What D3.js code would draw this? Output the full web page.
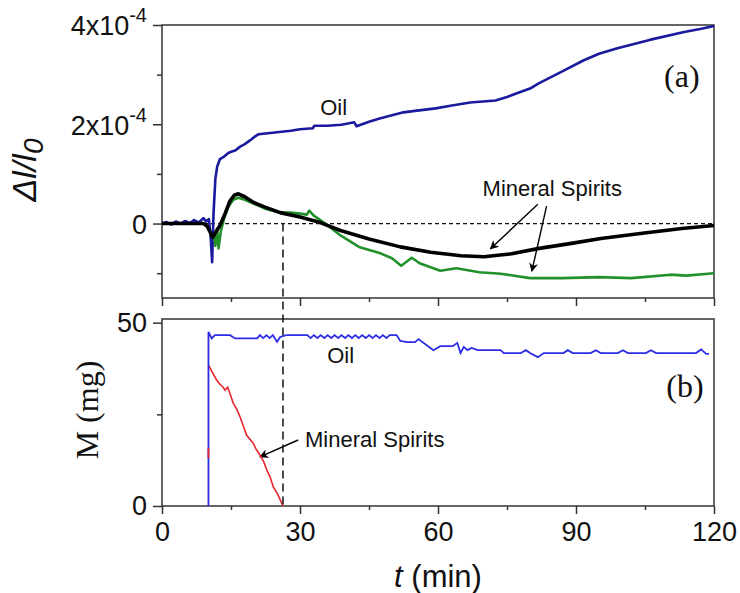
<!DOCTYPE html>
<html>
<head>
<meta charset="utf-8">
<script src="https://cdn.jsdelivr.net/npm/d3@7"></script>
<style>
  body { margin: 0; background: #fff; }
  svg { display: block; }
  text { font-family: Arial, 'Liberation Sans', sans-serif; fill: #111; }
</style>
</head>
<body>
<svg width="740" height="593"></svg>
<script>
// panel (a): dl/l0 in units of 1e-4, t in min
const oilTop = [
  [0,0],[1,0.03],[2,-0.02],[3,0.04],[4,0],[5,0.05],[6,0.01],[7,0.07],[8,0.02],[9,0.11],[9.6,0.04],
  [10.2,0.09],[10.6,-0.3],[10.9,-0.78],[11.2,0.2],[11.6,0.9],[12,1.15],[12.6,1.3],[13.5,1.35],
  [14.4,1.42],[15.2,1.45],[15.9,1.47],[17,1.55],[18,1.6],[19.2,1.68],[20,1.74],[21,1.8],[23,1.82],
  [25,1.84],[28,1.87],[30,1.9],[32.8,1.92],[33.1,1.97],[36,1.97],[39,1.99],[41.8,2.04],[42.3,1.96],
  [45,2.05],[47.5,2.12],[50,2.18],[52.5,2.24],[55,2.27],[59.5,2.32],[63,2.38],[67,2.44],[72.5,2.48],
  [75,2.55],[77,2.62],[80,2.72],[82,2.83],[86.7,3.05],[91.7,3.29],[95,3.42],[99,3.53],[106,3.7],
  [113.5,3.86],[117,3.92],[120,3.98]
];
const msBlack = [
  [0,0],[5,0],[9,0],[9.8,-0.05],[10.5,-0.18],[11,-0.28],[11.5,-0.2],[12.6,-0.04],[13.7,0.2],
  [14.8,0.46],[15.7,0.57],[16.6,0.6],[18,0.54],[20,0.42],[22.4,0.33],[25.7,0.22],[30,0.13],
  [34.4,0.02],[38.8,-0.14],[45,-0.31],[51.8,-0.47],[58.4,-0.58],[65,-0.65],[70,-0.67],[73,-0.64],
  [76,-0.61],[82,-0.5],[89,-0.4],[95.4,-0.3],[104,-0.2],[113,-0.1],[120,-0.04]
];
const msGreen = [
  [11.2,-0.2],[11.6,-0.45],[12,-0.1],[12.3,-0.5],[12.8,-0.15],[13.5,0.1],[14.5,0.35],[15.5,0.48],
  [16.6,0.52],[18,0.48],[20,0.4],[22.4,0.3],[25.7,0.22],[28,0.22],[30,0.2],[31.5,0.18],[32,0.26],
  [33,0.16],[35.5,0],[38.8,-0.24],[43,-0.48],[47.5,-0.6],[50,-0.7],[52,-0.85],[54.3,-0.69],[56,-0.8],
  [60.5,-0.95],[64,-0.9],[69,-0.98],[73.6,-1.01],[80,-1.1],[87,-1.1],[95,-1.08],[102,-1.1],
  [110.6,-1.03],[114,-1.05],[120,-1]
];

// panel (b): M in mg
const oilMass = [
  [10.1,0],[10.1,47.5],[10.8,45.7],[11.5,46.6],[14.8,46.6],[15.9,45.7],[20.7,45.7],[21.3,46.6],
  [22,45.8],[22.7,46.6],[23.4,45.8],[24.1,46.6],[25,44.8],[25.7,46.1],[27,46.6],[30,46.6],
  [31.6,46.6],[32.3,45.8],[33,46.6],[33.8,45.8],[34.5,46.6],[35.3,45.8],[36,46.6],[36.8,45.8],
  [37.5,46.6],[38.3,45.8],[39,46.6],[39.8,45.8],[40.5,46.6],[41.3,45.8],[42,46.6],[42.8,45.8],
  [43.5,46.6],[44.3,45.8],[45,46.6],[45.8,45.8],[46.5,46.6],[47.3,45.8],[48,46.6],[48.8,45.8],
  [49.5,46.6],[51,46.6],[51.8,45],[53.4,44.7],[55,44.7],[55.8,45.5],[56.6,44.7],[59,42.5],
  [60.5,43.6],[63.2,43.6],[64.2,44.5],[64.9,41.7],[65.6,43.4],[66.4,42.5],[67.3,43.1],[68.6,42.5],
  [73.6,42.5],[74.3,41.7],[78,41.7],[79.1,42.5],[80,41.7],[81.7,40.6],[83,41.7],[87.3,41.7],
  [88.2,42.5],[89.3,41.7],[93.2,41.7],[94.3,42.5],[95.4,41.7],[99.1,41.7],[100.2,42.5],
  [101.3,41.7],[105.2,41.7],[106.3,42.5],[107.4,41.7],[116.1,41.7],[117.2,42.7],[118.3,41.5],
  [118.9,41.5]
];
const msMass = [
  [10.1,38.4],[10.9,36.6],[11.9,34.3],[12.6,33.2],[13.3,32.4],[13.7,31.6],[14.3,32.4],[15.5,28],
  [16.3,26.3],[17,24.2],[17.8,21.4],[18.4,19.3],[19.8,17.2],[20.5,15.4],[21.3,13.9],[22.1,12.1],
  [22.8,9.8],[23.5,7.9],[24.2,5.2],[25.2,3.1],[26.3,0]
];
const msMassStub = [[10.1,13.1],[10.1,15.8]];

const dropTime = 26.3;

const xTicks = [0, 30, 60, 90, 120];
const xMinor = [15, 45, 75, 105];
const topTicks = [0, 2, 4];
const topMinor = [-1, 1, 3];
const botTicks = [0, 50];
const botMinor = [25];

const svg = d3.select('svg');

const x = d3.scaleLinear().domain([0, 120]).range([162, 714]);
const yTop = d3.scaleLinear().domain([-1.5, 4]).range([298, 25]);
const yBot = d3.scaleLinear().domain([0, 51]).range([506, 319]);

const axisColor = '#333';

svg.append('defs').append('marker')
    .attr('id', 'arr')
    .attr('viewBox', '0 0 10 10')
    .attr('refX', 9).attr('refY', 5)
    .attr('markerWidth', 9).attr('markerHeight', 9)
    .attr('markerUnits', 'userSpaceOnUse')
    .attr('orient', 'auto')
  .append('path')
    .attr('d', 'M0,0 L10,5 L0,10 L3,5 Z')
    .attr('fill', '#000');

function frame(y) {
  const [y0, y1] = y.range();
  svg.append('rect')
      .attr('x', 162).attr('y', y1)
      .attr('width', 714 - 162).attr('height', y0 - y1)
      .attr('fill', 'none')
      .attr('stroke', axisColor)
      .attr('stroke-width', 1.5);
}

function ticks(g) {
  g.select('.domain').remove();
  g.selectAll('.tick line').attr('stroke', axisColor).attr('stroke-width', 1.5);
  return g;
}

// ---- panel (a)
frame(yTop);

svg.append('g').attr('transform', 'translate(0,298)')
    .call(d3.axisBottom(x).tickValues(xTicks).tickSize(8).tickFormat(''))
    .call(ticks);
svg.append('g').attr('transform', 'translate(0,298)')
    .call(d3.axisBottom(x).tickValues(xMinor).tickSize(4).tickFormat(''))
    .call(ticks);

const leftTop = svg.append('g').attr('transform', 'translate(162,0)')
    .call(d3.axisLeft(yTop).tickValues(topTicks).tickSize(9).tickPadding(6).tickFormat(''))
    .call(ticks);
leftTop.selectAll('.tick').each(function(d) {
  const t = d3.select(this).select('text')
      .attr('font-size', 27).attr('fill', '#111').attr('dy', '0.36em');
  if (d === 0) { t.text('0'); return; }
  t.append('tspan').text(d + 'x10');
  t.append('tspan').text('-4').attr('font-size', 20).attr('dy', '-0.65em');
});
svg.append('g').attr('transform', 'translate(162,0)')
    .call(d3.axisLeft(yTop).tickValues(topMinor).tickSize(5).tickFormat(''))
    .call(ticks);

svg.append('line')
    .attr('x1', x(0)).attr('x2', x(120))
    .attr('y1', yTop(0)).attr('y2', yTop(0))
    .attr('stroke', '#111').attr('stroke-width', 1.2)
    .attr('stroke-dasharray', '4,3');

const lineTop = d3.line().x(d => x(d[0])).y(d => yTop(d[1]));

svg.append('path').datum(oilTop)
    .attr('d', lineTop).attr('fill', 'none')
    .attr('stroke', '#1a1a9e').attr('stroke-width', 2.6).attr('stroke-linejoin', 'round');
svg.append('path').datum(msGreen)
    .attr('d', lineTop).attr('fill', 'none')
    .attr('stroke', '#22902a').attr('stroke-width', 2.6).attr('stroke-linejoin', 'round');
svg.append('path').datum(msBlack)
    .attr('d', lineTop).attr('fill', 'none')
    .attr('stroke', '#000').attr('stroke-width', 3.6).attr('stroke-linejoin', 'round');

svg.append('text')
    .attr('x', x(34.4)).attr('y', yTop(2.19))
    .attr('font-size', 22).text('Oil');
svg.append('text')
    .attr('x', x(69.7)).attr('y', yTop(0.55))
    .attr('font-size', 22).text('Mineral Spirits');
svg.append('text')
    .attr('x', x(113)).attr('y', yTop(2.75))
    .attr('text-anchor', 'middle')
    .style('font-family', "'Times New Roman', 'Liberation Serif', serif")
    .attr('font-size', 32).text('(a)');

const arrows = [
  { from: [81.7, 0.39], to: [71.4, -0.51], y: yTop },
  { from: [83.6, 0.35], to: [80.4, -0.96], y: yTop },
  { from: [29.6, 18.0], to: [21.3, 13.4], y: yBot }
];
arrows.forEach(a => {
  svg.append('line')
      .attr('x1', x(a.from[0])).attr('y1', a.y(a.from[1]))
      .attr('x2', x(a.to[0])).attr('y2', a.y(a.to[1]))
      .attr('stroke', '#000').attr('stroke-width', 1.4)
      .attr('marker-end', 'url(#arr)');
});

svg.append('text')
    .attr('transform', 'translate(36,170) rotate(-90)')
    .attr('text-anchor', 'middle')
    .attr('font-style', 'italic')
    .attr('font-size', 34)
    .call(t => {
      t.append('tspan').text('Δl/l');
      t.append('tspan').text('0').attr('font-size', 28).attr('dy', '0.25em');
    });

// ---- panel (b)
frame(yBot);

svg.append('g').attr('transform', 'translate(0,506)')
    .call(d3.axisBottom(x).tickValues(xTicks).tickSize(8).tickPadding(8).tickFormat(d3.format('d')))
    .call(ticks)
    .selectAll('text').attr('font-size', 27).attr('fill', '#111');
svg.append('g').attr('transform', 'translate(0,506)')
    .call(d3.axisBottom(x).tickValues(xMinor).tickSize(4).tickFormat(''))
    .call(ticks);

svg.append('g').attr('transform', 'translate(162,0)')
    .call(d3.axisLeft(yBot).tickValues(botTicks).tickSize(9).tickPadding(6).tickFormat(d3.format('d')))
    .call(ticks)
    .selectAll('text').attr('font-size', 27).attr('fill', '#111');
svg.append('g').attr('transform', 'translate(162,0)')
    .call(d3.axisLeft(yBot).tickValues(botMinor).tickSize(5).tickFormat(''))
    .call(ticks);

const lineBot = d3.line().x(d => x(d[0])).y(d => yBot(d[1]));

svg.append('path').datum(msMass)
    .attr('d', lineBot).attr('fill', 'none')
    .attr('stroke', '#e8252d').attr('stroke-width', 1.6);
svg.append('path').datum(oilMass)
    .attr('d', lineBot).attr('fill', 'none')
    .attr('stroke', '#2c2ce6').attr('stroke-width', 1.8);
svg.append('path').datum(msMassStub)
    .attr('d', lineBot).attr('fill', 'none')
    .attr('stroke', '#e8252d').attr('stroke-width', 1.8);

svg.append('text')
    .attr('x', x(35.9)).attr('y', yBot(39))
    .attr('font-size', 22).text('Oil');
svg.append('text')
    .attr('x', x(31.1)).attr('y', yBot(16.1))
    .attr('font-size', 22).text('Mineral Spirits');
svg.append('text')
    .attr('x', x(113.7)).attr('y', yBot(29.7))
    .attr('text-anchor', 'middle')
    .style('font-family', "'Times New Roman', 'Liberation Serif', serif")
    .attr('font-size', 32).text('(b)');

svg.append('text')
    .attr('transform', 'translate(98,410) rotate(-90)')
    .attr('text-anchor', 'middle')
    .style('font-family', "'Times New Roman', 'Liberation Serif', serif")
    .attr('font-size', 32).text('M (mg)');

// vertical dashed marker where the mineral spirits mass hits zero
svg.append('line')
    .attr('x1', x(dropTime)).attr('x2', x(dropTime))
    .attr('y1', yTop(0)).attr('y2', yBot(0))
    .attr('stroke', '#111').attr('stroke-width', 1.5)
    .attr('stroke-dasharray', '8,5');

svg.append('text')
    .attr('x', 438).attr('y', 587)
    .attr('text-anchor', 'middle')
    .attr('font-size', 31)
    .call(t => {
      t.append('tspan').attr('font-style', 'italic').text('t');
      t.append('tspan').text(' (min)');
    });
</script>
</body>
</html>
